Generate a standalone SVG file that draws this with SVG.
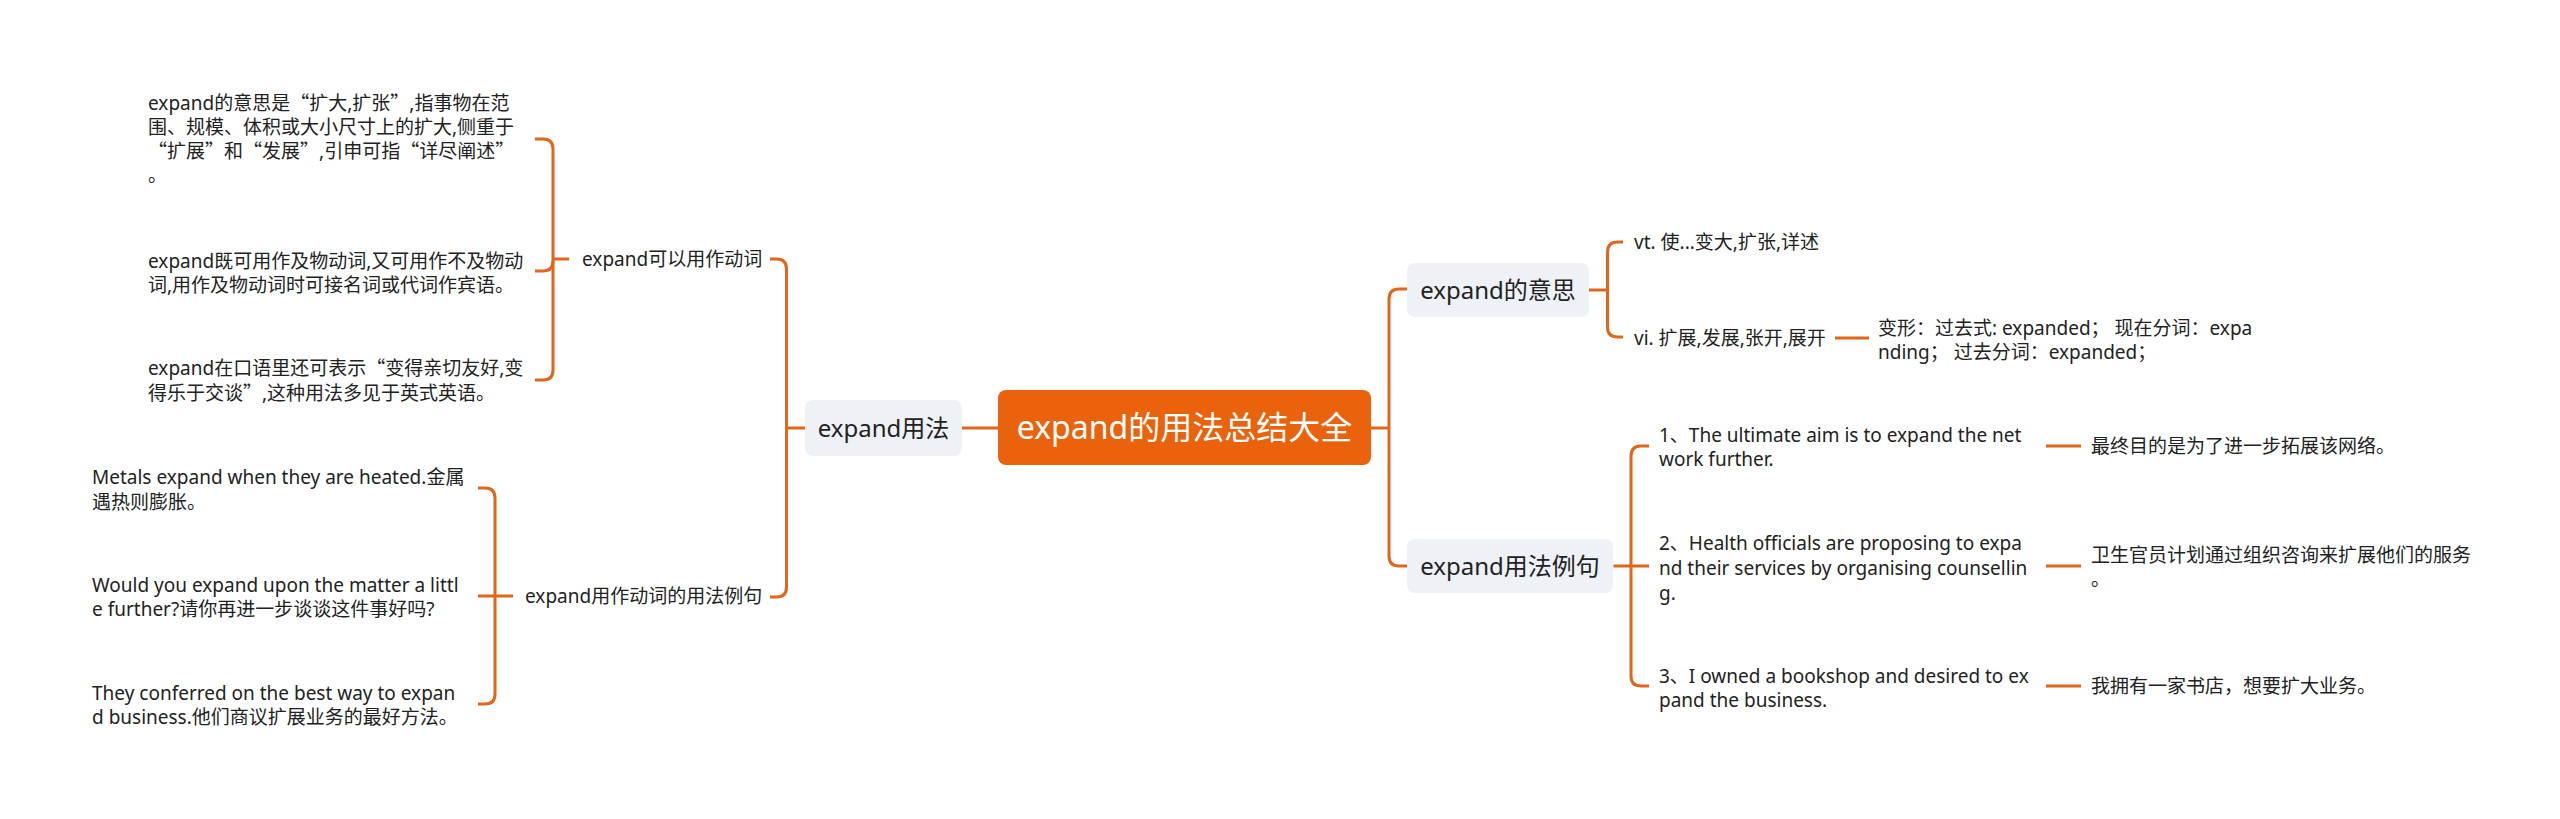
<svg xmlns="http://www.w3.org/2000/svg" width="2560" height="819" viewBox="0 0 2560 819">
<style>
.ln{fill:none;stroke:#E2661A;stroke-width:3;stroke-linecap:butt}
.t{font-family:"Noto Sans","Noto Sans CJK SC",sans-serif;fill:#222;font-size:19px}
.q{font-family:"Noto Sans CJK SC",sans-serif}
.n1{fill:#EEF1F5}
.l1{font-family:"Noto Sans","Noto Sans CJK SC",sans-serif;fill:#222;font-size:24px;text-anchor:middle}
</style>
<rect width="2560" height="819" fill="#FFFFFF"/>
<g id="connectors">
<path class="ln" d="M962 428H998"/>
<path class="ln" d="M1371 428H1389"/>
<path class="ln" d="M805 428H786.5"/>
<path class="ln" d="M770 259H776.5Q786.5 259 786.5 269V587Q786.5 597 776.5 597H770"/>
<path class="ln" d="M569 259H553"/>
<path class="ln" d="M535 139H543Q553 139 553 149V370Q553 380 543 380H535"/>
<path class="ln" d="M553 261Q553 271 543 271H535"/>
<path class="ln" d="M513 596H478"/>
<path class="ln" d="M478 488H485Q495 488 495 498V694Q495 704 485 704H478"/>
<path class="ln" d="M1407 289H1399Q1389 289 1389 299V556Q1389 566 1399 566H1407"/>
<path class="ln" d="M1589 290H1607.5"/>
<path class="ln" d="M1623 242H1617.5Q1607.5 242 1607.5 252V327Q1607.5 337 1617.5 337H1623"/>
<path class="ln" d="M1835 338H1869"/>
<path class="ln" d="M1613.5 566H1649"/>
<path class="ln" d="M1649 446H1641Q1631 446 1631 456V676Q1631 686 1641 686H1649"/>
<path class="ln" d="M2046 446H2081"/>
<path class="ln" d="M2046 566H2081"/>
<path class="ln" d="M2046 686H2081"/>
</g>
<g id="root">
<rect x="998" y="390" width="373" height="75" rx="8" fill="#EB620C"/>
<text x="1184.5" y="439" font-family="'Noto Sans','Noto Sans CJK SC',sans-serif" font-size="32" fill="#FFFFFF" text-anchor="middle">expand的用法总结大全</text>
</g>
<g id="n-usage">
<rect class="n1" x="805" y="400" width="157" height="56" rx="8"/>
<text class="l1" x="883.5" y="436.5">expand用法</text>
</g>
<g id="n-meaning">
<rect class="n1" x="1407" y="263" width="182" height="54" rx="8"/>
<text class="l1" x="1498" y="298.5">expand的意思</text>
</g>
<g id="n-examples">
<rect class="n1" x="1407" y="539" width="206" height="54" rx="8"/>
<text class="l1" x="1510" y="574.5">expand用法例句</text>
</g>
<g id="n-verb">
<text class="t" x="582" y="266">expand可以用作动词</text>
</g>
<g id="n-verb-examples">
<text class="t" x="525" y="603">expand用作动词的用法例句</text>
</g>
<g id="leaf-1">
<text class="t"><tspan x="148" y="110">expand的意思是<tspan class="q">“</tspan>扩大,扩张<tspan class="q">”</tspan>,指事物在范</tspan><tspan x="148" y="134">围、规模、体积或大小尺寸上的扩大,侧重于</tspan><tspan x="148" y="158"><tspan class="q">“</tspan>扩展<tspan class="q">”</tspan>和<tspan class="q">“</tspan>发展<tspan class="q">”</tspan>,引申可指<tspan class="q">“</tspan>详尽阐述<tspan class="q">”</tspan></tspan><tspan x="148" y="182">。</tspan></text>
</g>
<g id="leaf-2">
<text class="t"><tspan x="148" y="268">expand既可用作及物动词,又可用作不及物动</tspan><tspan x="148" y="292">词,用作及物动词时可接名词或代词作宾语。</tspan></text>
</g>
<g id="leaf-3">
<text class="t"><tspan x="148" y="375">expand在口语里还可表示<tspan class="q">“</tspan>变得亲切友好,变</tspan><tspan x="148" y="400">得乐于交谈<tspan class="q">”</tspan>,这种用法多见于英式英语。</tspan></text>
</g>
<g id="leaf-4">
<text class="t"><tspan x="92" y="484">Metals expand when they are heated.金属</tspan><tspan x="92" y="509">遇热则膨胀。</tspan></text>
</g>
<g id="leaf-5">
<text class="t"><tspan x="92" y="592">Would you expand upon the matter a littl</tspan><tspan x="92" y="616">e further?请你再进一步谈谈这件事好吗?</tspan></text>
</g>
<g id="leaf-6">
<text class="t"><tspan x="92" y="700">They conferred on the best way to expan</tspan><tspan x="92" y="724">d business.他们商议扩展业务的最好方法。</tspan></text>
</g>
<g id="n-vt">
<text class="t" x="1634" y="249">vt. 使...变大,扩张,详述</text>
</g>
<g id="n-vi">
<text class="t" x="1634" y="345">vi. 扩展,发展,张开,展开</text>
</g>
<g id="n-forms">
<text class="t"><tspan x="1878" y="335">变形：过去式: expanded； 现在分词：expa</tspan><tspan x="1878" y="359">nding； 过去分词：expanded；</tspan></text>
</g>
<g id="ex-1">
<text class="t"><tspan x="1659" y="442">1、The ultimate aim is to expand the net</tspan><tspan x="1659" y="466">work further.</tspan></text>
</g>
<g id="ex-2">
<text class="t"><tspan x="1659" y="550">2、Health officials are proposing to expa</tspan><tspan x="1659" y="575">nd their services by organising counsellin</tspan><tspan x="1659" y="600">g.</tspan></text>
</g>
<g id="ex-3">
<text class="t"><tspan x="1659" y="683">3、I owned a bookshop and desired to ex</tspan><tspan x="1659" y="707">pand the business.</tspan></text>
</g>
<g id="tr-1">
<text class="t" x="2091" y="453">最终目的是为了进一步拓展该网络。</text>
</g>
<g id="tr-2">
<text class="t"><tspan x="2091" y="562">卫生官员计划通过组织咨询来扩展他们的服务</tspan><tspan x="2091" y="586">。</tspan></text>
</g>
<g id="tr-3">
<text class="t" x="2091" y="693">我拥有一家书店，想要扩大业务。</text>
</g>
</svg>
